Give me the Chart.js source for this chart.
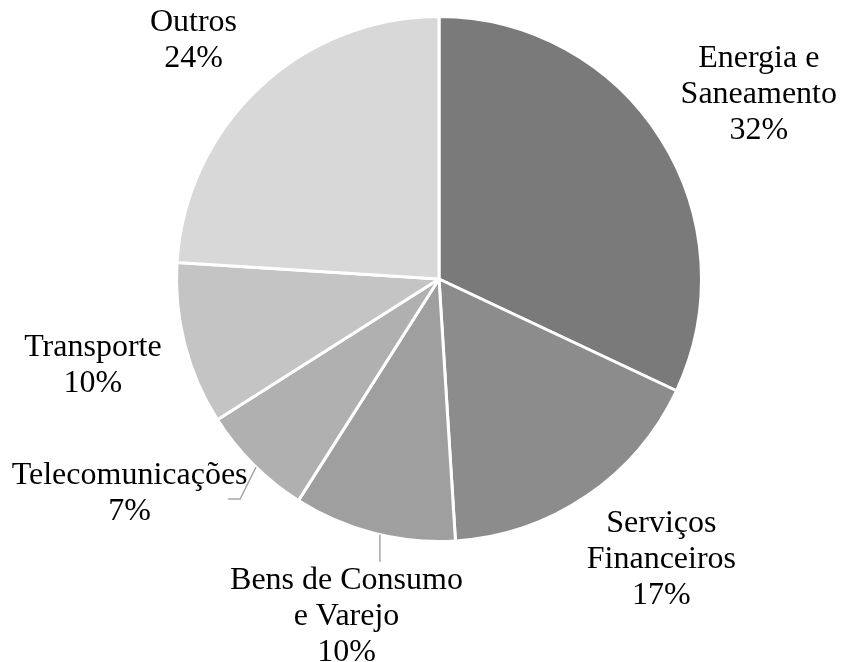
<!DOCTYPE html>
<html>
<head>
<meta charset="utf-8">
<script src="https://cdn.jsdelivr.net/npm/chart.js@4.4.0/dist/chart.umd.min.js"></script>
<style>
  html, body { margin: 0; padding: 0; background: #ffffff; }
  #wrap { width: 841px; height: 662px; position: relative; }
</style>
</head>
<body>
<div id="wrap"><canvas id="c" width="841" height="662"></canvas></div>
<script>
// ---- Data ----
const categories = ['Energia e\nSaneamento', 'Serviços\nFinanceiros', 'Bens de Consumo\ne Varejo', 'Telecomunicações', 'Transporte', 'Outros'];
const shares = [32, 17, 10, 7, 10, 24];

// ---- Styles ----
const sliceColors = ['#7a7a7a', '#8c8c8c', '#9f9f9f', '#b0b0b0', '#c4c4c4', '#d8d8d8'];
// label placement: angle offset (deg) from slice middle, distance factor of radius
const labelPlace = [
  { dA: 2.1,  f: 1.411 },
  { dA: -4.4, f: 1.358 },
  { dA: 1.0,  f: 1.327 },
  { dA: 10.5, f: 1.430 },
  { dA: 0.7,  f: 1.357 },
  { dA: -2.4, f: 1.309 }
];
// leader lines (polar angle from top clockwise in deg, radius factor), optional
const leaders = {
  2: { startDeg: 193.0, drop: 27 },
  3: { startDeg: 224.2, elbowDeg: 222.1, elbowF: 1.13, tail: 12 }
};

const total = shares.reduce((a, b) => a + b, 0);

const labelPlugin = {
  id: 'outLabels',
  afterDatasetsDraw(chart) {
    const ctx = chart.ctx;
    const meta = chart.getDatasetMeta(0);
    ctx.save();
    ctx.font = '32px "Liberation Serif", "Times New Roman", serif';
    ctx.fillStyle = '#000000';
    ctx.textAlign = 'center';
    ctx.textBaseline = 'alphabetic';
    const lineH = 36;
    const capHalf = 10.5;
    meta.data.forEach((arc, i) => {
      const p = arc.getProps(['x', 'y', 'startAngle', 'endAngle', 'outerRadius'], true);
      const R = p.outerRadius;
      const mid = (p.startAngle + p.endAngle) / 2 + labelPlace[i].dA * Math.PI / 180;
      const cx = p.x + Math.cos(mid) * R * labelPlace[i].f;
      const cy = p.y + Math.sin(mid) * R * labelPlace[i].f;
      const pct = Math.round(shares[i] / total * 100) + '%';
      const lines = categories[i].split('\n').concat([pct]);
      const n = lines.length;
      lines.forEach((t, k) => {
        const by = cy + (k - (n - 1) / 2) * lineH + capHalf;
        ctx.fillText(t, cx, by);
      });
      // leader lines
      const L = leaders[i];
      if (L) {
        ctx.strokeStyle = '#a6a6a6';
        ctx.lineWidth = 1.5;
        const toCanvas = (deg) => (deg - 90) * Math.PI / 180;
        const a0 = toCanvas(L.startDeg);
        const sx = p.x + Math.cos(a0) * R;
        const sy = p.y + Math.sin(a0) * R;
        ctx.beginPath();
        ctx.moveTo(sx, sy);
        if (L.drop) {
          ctx.lineTo(sx, sy + L.drop);
        } else {
          const a1 = toCanvas(L.elbowDeg);
          const ex = p.x + Math.cos(a1) * R * L.elbowF;
          const ey = p.y + Math.sin(a1) * R * L.elbowF;
          ctx.lineTo(ex, ey);
          ctx.lineTo(ex - L.tail, ey);
        }
        ctx.stroke();
      }
    });
    ctx.restore();
  }
};

new Chart(document.getElementById('c'), {
  type: 'pie',
  data: {
    labels: categories.map(c => c.replace('\n', ' ')),
    datasets: [{
      data: shares,
      backgroundColor: sliceColors,
      borderColor: '#ffffff',
      borderWidth: 3
    }]
  },
  options: {
    responsive: false,
    animation: false,
    layout: { padding: { left: 175, right: 138, top: 15, bottom: 119 } },
    plugins: {
      legend: { display: false },
      tooltip: { enabled: false }
    }
  },
  plugins: [labelPlugin]
});
</script>
</body>
</html>
